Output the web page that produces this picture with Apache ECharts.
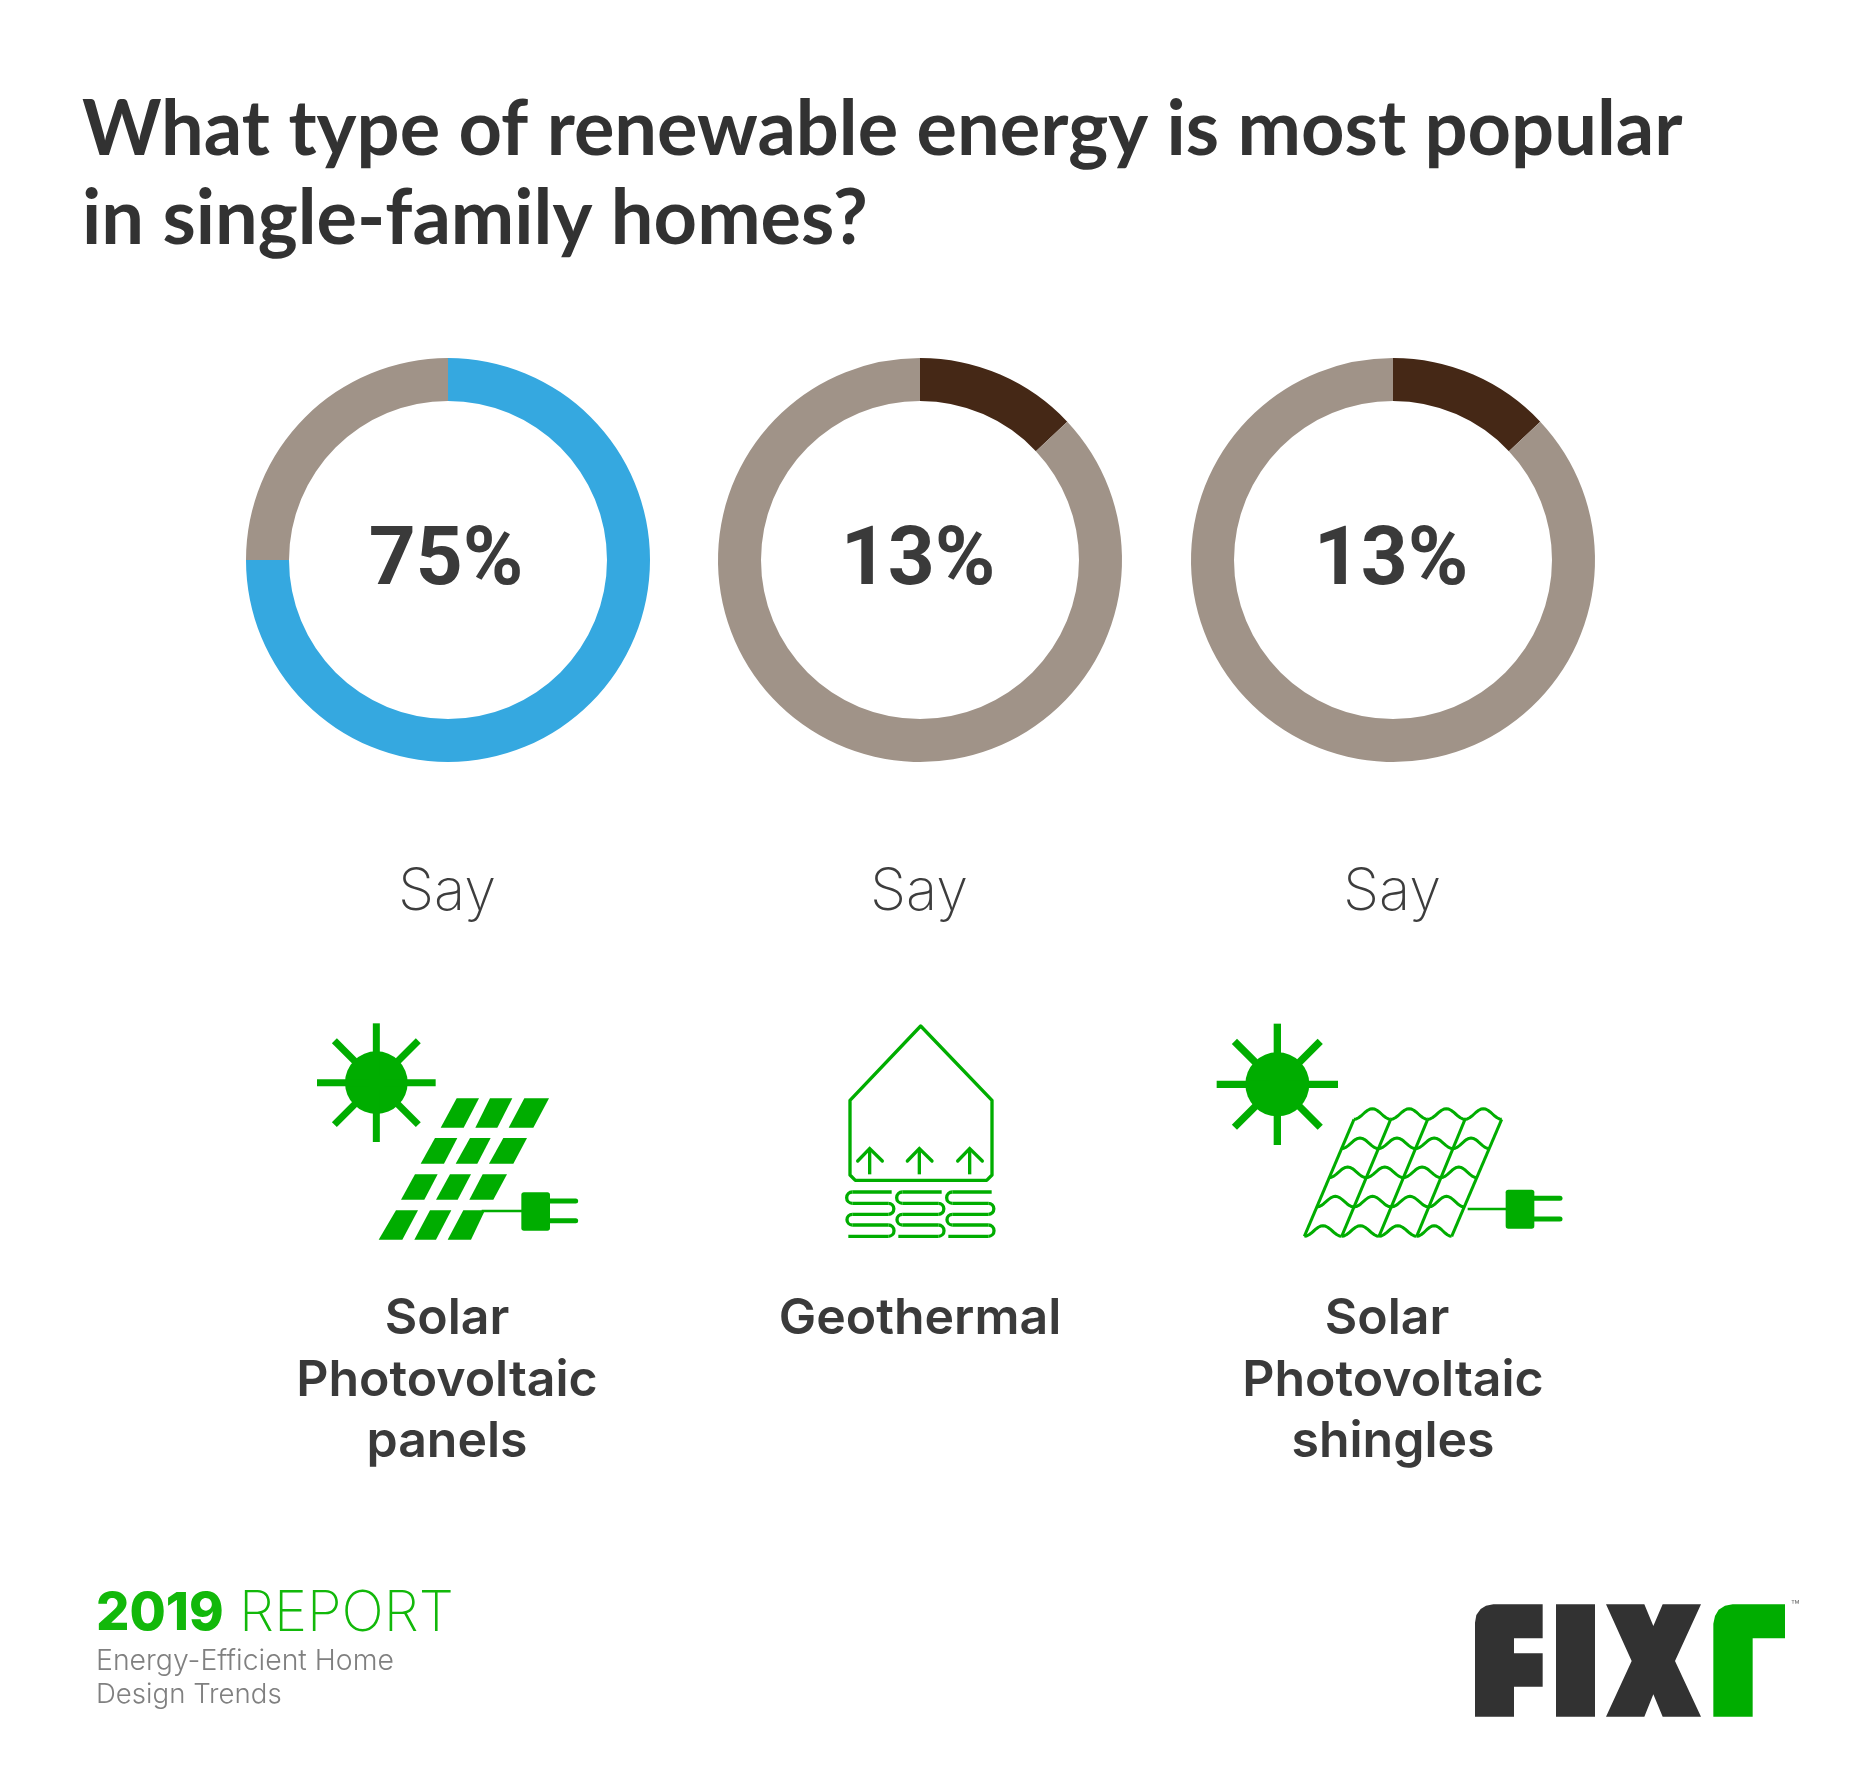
<!DOCTYPE html>
<html>
<head>
<meta charset="utf-8">
<title>Renewable energy in single-family homes</title>
<script src="https://cdn.jsdelivr.net/npm/echarts@6/dist/echarts.min.js"></script>
<style>
  html, body { margin: 0; padding: 0; background: #fff; }
  #chart { width: 1850px; height: 1767px; }
</style>
</head>
<body>
<div id="chart"></div>
<script>
const titleLines = ['What type of renewable energy is most popular', 'in single-family homes?'];
const categories = [
  ['Solar', 'Photovoltaic', 'panels'],
  ['Geothermal'],
  ['Solar', 'Photovoltaic', 'shingles']
];
const shares = [75, 13, 13];
const rest = [25, 87, 87];
const shareLabels = ['75%', '13%', '13%'];
const sayLabel = 'Say';

const centers = [448, 920, 1393];
const shareColors = ['#35a8e0', '#452816', '#452816'];
const restColor = '#a09388';
const iconGreen = '#00ad00';
const reportGreen = '#12b80a';
const ink = '#3a3a3a';

const chart = echarts.init(document.getElementById('chart'));

const series = shares.map((value, idx) => ({
  type: 'pie',
  radius: [159, 202],
  center: [centers[idx], 560],
  startAngle: 90,
  clockwise: true,
  silent: true,
  animation: false,
  labelLine: { show: false },
  emphasis: { disabled: true },
  data: [
    {
      value,
      itemStyle: { color: shareColors[idx] },
      label: {
        show: true,
        position: 'center',
        formatter: shareLabels[idx],
        fontFamily: 'Roboto',
        fontWeight: 700,
        fontSize: 82,
        color: ink,
        offset: [-2, 3]
      }
    },
    { value: rest[idx], itemStyle: { color: restColor }, label: { show: false } }
  ]
}));

function text(str, x, y, font, fill, align) {
  return {
    type: 'text',
    silent: true,
    style: { text: str, x, y, font, fill, textAlign: align || 'left', textVerticalAlign: 'middle' }
  };
}

// icons are drawn in 3x local units and scaled down by the group
function iconGroup(x, y, children) {
  return { type: 'group', x, y, scaleX: 1 / 3, scaleY: 1 / 3, silent: true, children };
}
function poly(points) {
  return { type: 'polygon', shape: { points }, style: { fill: iconGreen } };
}
function line(x1, y1, x2, y2, width, cap) {
  return {
    type: 'line',
    shape: { x1, y1, x2, y2 },
    style: { stroke: iconGreen, lineWidth: width, lineCap: cap || 'butt', fill: null }
  };
}
function arc(cx, cy, r, startAngle, endAngle) {
  return {
    type: 'arc',
    shape: { cx, cy, r, startAngle, endAngle, clockwise: true },
    style: { stroke: iconGreen, lineWidth: 10, fill: null }
  };
}
function sun(cx, cy, r, ray, width) {
  const d = ray * 0.7071;
  return [
    { type: 'circle', shape: { cx, cy, r }, style: { fill: iconGreen } },
    line(cx, cy - ray, cx, cy + ray, width),
    line(cx - ray, cy, cx + ray, cy, width),
    line(cx - d, cy - d, cx + d, cy + d, width),
    line(cx + d, cy - d, cx - d, cy + d, width)
  ];
}
function plug(x1, x2, wireY, left, top, bottom, p1, p2) {
  return [
    line(x1, wireY, x2, wireY, 8),
    { type: 'rect', shape: { x: left, y: top, width: 86, height: bottom - top, r: 8 }, style: { fill: iconGreen } },
    line(left + 86, p1, left + 163, p1, 15, 'round'),
    line(left + 86, p2, left + 163, p2, 15, 'round')
  ];
}

// parallelograms: [top y, bottom y, [topLeft, topRight, bottomLeft, bottomRight] per cell]
const panelRows = [
  [292, 380, [[500, 567, 452, 521], [600, 667, 556, 622], [703, 777, 656, 730]]],
  [411, 488, [[435, 502, 392, 462], [540, 602, 497, 562], [640, 711, 597, 670]]],
  [520, 596, [[375, 443, 333, 403], [480, 543, 438, 503], [578, 651, 538, 610]]],
  [628, 716, [[318, 384, 266, 337], [420, 484, 373, 438], [520, 585, 473, 543]]]
];
const panelCells = [];
panelRows.forEach(row => {
  row[2].forEach(c => {
    panelCells.push(poly([[c[0], row[0]], [c[1], row[0]], [c[3], row[1]], [c[2], row[1]]]));
  });
});

const solarIcon = iconGroup(290, 1001, [
  ...sun(259, 245, 94, 178, 21),
  ...panelCells,
  ...plug(575, 700, 630, 694, 574, 689, 600, 659)
]);

function coil(dx) {
  const L = 97 + dx;
  const R = 205 + dx;
  return [
    line(215 + dx, 573, L, 573, 10),
    arc(L, 590, 17, Math.PI / 2, -Math.PI / 2),
    line(L, 607, R, 607, 10),
    arc(R, 623.5, 16.5, -Math.PI / 2, Math.PI / 2),
    line(R, 640, L, 640, 10),
    arc(L, 656, 16, Math.PI / 2, -Math.PI / 2),
    line(L, 672, R, 672, 10),
    arc(R, 689, 17, -Math.PI / 2, Math.PI / 2),
    line(R, 706, 85 + dx, 706, 10)
  ];
}
function arrow(x) {
  return [
    line(x, 520, x, 445, 10),
    {
      type: 'polyline',
      shape: { points: [[x - 36, 480], [x, 443], [x + 38, 480]] },
      style: { stroke: iconGreen, lineWidth: 10, lineCap: 'round', fill: null }
    }
  ];
}
const geoIcon = iconGroup(820, 1001, [
  {
    type: 'polygon',
    shape: { points: [[90, 298], [302, 75], [516, 298], [516, 522], [500, 538], [106, 538], [90, 522]] },
    style: { stroke: iconGreen, lineWidth: 10, fill: null, lineJoin: 'round' }
  },
  ...arrow(149), ...arrow(298), ...arrow(449),
  ...coil(0), ...coil(150), ...coil(300)
]);

// roof: slanted columns crossed by wavy rows
const roofParts = [];
const topXs = [462, 572, 683, 795, 905];
const bottomXs = [313, 425, 537, 650, 755];
const rowYs = [355, 443, 530, 618, 706];
topXs.forEach((x, i) => {
  roofParts.push(line(x, 355, bottomXs[i], 706, 9));
});
rowYs.forEach((y, r) => {
  const t = r / 4;
  for (let j = 0; j < 4; j++) {
    const x0 = topXs[j] + (bottomXs[j] - topXs[j]) * t;
    const x1 = topXs[j + 1] + (bottomXs[j + 1] - topXs[j + 1]) * t;
    const pts = [];
    for (let k = 0; k <= 16; k++) {
      const f = k / 16;
      pts.push([x0 + (x1 - x0) * f, y - 16 * (1 - Math.cos(2 * Math.PI * f))]);
    }
    roofParts.push({
      type: 'polyline',
      shape: { points: pts },
      style: { stroke: iconGreen, lineWidth: 9, fill: null, lineJoin: 'round' }
    });
  }
});
const shingleIcon = iconGroup(1200, 1001, [
  ...sun(232, 250, 96, 182, 22),
  ...roofParts,
  ...plug(803, 920, 624, 917, 566, 683, 592, 654)
]);

const logo = iconGroup(1450, 1581, [
  { type: 'polygon', shape: { points: [[130, 70], [278, 70], [278, 172], [192, 172], [192, 217], [278, 217], [278, 317], [192, 317], [192, 407], [75, 407], [75, 125], [79, 102], [92, 84], [108, 74]] }, style: { fill: '#323232' } },
  { type: 'rect', shape: { x: 318, y: 70, width: 117, height: 337 }, style: { fill: '#323232' } },
  { type: 'polygon', shape: { points: [[468, 70], [583, 70], [610, 135], [638, 70], [753, 70], [675, 240], [753, 407], [638, 407], [610, 340], [583, 407], [468, 407], [545, 240]] }, style: { fill: '#323232' } },
  { type: 'polygon', shape: { points: [[790, 407], [908, 407], [908, 172], [1005, 172], [1005, 70], [848, 70], [825, 74], [806, 86], [795, 105], [790, 128]] }, style: { fill: iconGreen } }
]);

const graphics = [
  text(titleLines[0], 82, 131, '700 75.8px Lato', '#323232'),
  text(titleLines[1], 82, 220, '700 75.8px Lato', '#323232'),
  solarIcon, geoIcon, shingleIcon, logo,
  text('\u2122', 1791, 1607, '400 14px Inter', '#777777'),
  text('2019', 96, 1614, '800 52.5px Inter', reportGreen),
  text('REPORT', 239, 1614, '200 56px Inter', reportGreen),
  text('Energy-Efficient Home', 96, 1661, '300 28.4px Inter', '#808080'),
  text('Design Trends', 96, 1695, '300 27.6px Inter', '#808080')
];

const lineYs = [1318.5, 1380.5, 1441.5];
const labelXs = [447, 920, 1393];
centers.forEach((cx, idx) => {
  graphics.push(text(sayLabel, cx - 1, 893, '200 58px Inter', '#3d3d3d', 'center'));
  categories[idx].forEach((name, row) => {
    const x = (idx === 2 && row === 0) ? 1387 : labelXs[idx];
    graphics.push(text(name, x, lineYs[row], '600 50px Inter', '#3a3a3a', 'center'));
  });
});

chart.setOption({
  animation: false,
  backgroundColor: '#fff',
  tooltip: { show: false },
  legend: { show: false },
  series,
  graphic: { elements: graphics }
});
</script>
</body>
</html>
